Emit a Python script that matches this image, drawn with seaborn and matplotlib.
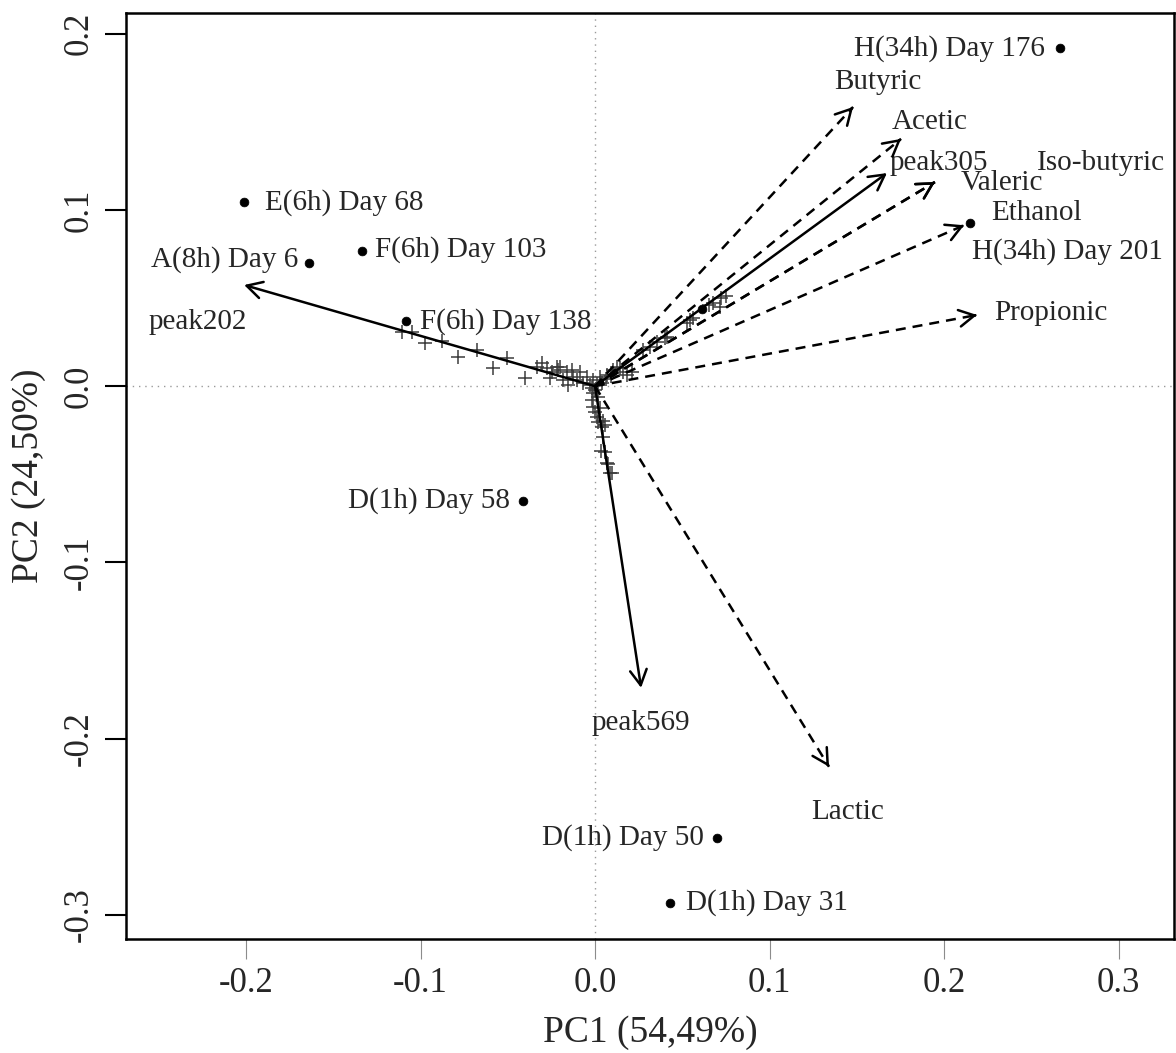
import matplotlib
matplotlib.use("Agg")
import matplotlib.pyplot as plt
import seaborn as sns
import pandas as pd

# samples (scores), black dots
sample_names = ["H(34h) Day 176", "E(6h) Day 68", "A(8h) Day 6", "F(6h) Day 103",
                "F(6h) Day 138", "D(1h) Day 58", "D(1h) Day 50", "D(1h) Day 31",
                "H(34h) Day 201", ""]
sample_x = [0.2665, -0.2011, -0.1639, -0.1335, -0.1083, -0.0413, 0.0699, 0.0427, 0.2149, 0.0613]
sample_y = [0.1918, 0.1044, 0.0699, 0.0767, 0.0370, -0.0651, -0.2563, -0.2931, 0.0926, 0.0438]

# peak loadings ("+" markers)
peak_x = [-0.1108, -0.1050, -0.0974, -0.0879, -0.0783, -0.0678, -0.0583, -0.0506, -0.0401,
          -0.0334, -0.0305, -0.0277, -0.0258, -0.0248, -0.0219, -0.0210, -0.0201, -0.0182,
          -0.0162, -0.0153, -0.0134, -0.0124, -0.0105, -0.0086, -0.0067, -0.0048, -0.0029,
          -0.0010, 0.0029, 0.0067, 0.0105, 0.0124, 0.0143, 0.0162, 0.0182, 0.0210,
          0.0277, 0.0315, 0.0354, 0.0401, 0.0415, 0.0526, 0.0544, 0.0563, 0.0653, 0.0678,
          0.0716, 0.0720, 0.0753,
          0.0000, 0.0019, -0.0010, -0.0019, -0.0010, 0.0000, 0.0010, 0.0019, 0.0038, 0.0026,
          0.0046, 0.0056, 0.0048, 0.0036, 0.0057, 0.0067, 0.0076, 0.0086, 0.0096,
          0.0010, -0.0020, 0.0040, 0.0060, 0.0090]
peak_y = [0.0309, 0.0309, 0.0247, 0.0258, 0.0167, 0.0205, 0.0102, 0.0158, 0.0045,
          0.0111, 0.0130, 0.0102, 0.0045, 0.0082, 0.0111, 0.0092, 0.0111, 0.0035,
          0.0082, 0.0007, 0.0092, 0.0054, 0.0035, 0.0082, 0.0016, 0.0054, 0.0007,
          0.0035, 0.0054, 0.0064, 0.0092, 0.0111, 0.0102, 0.0082, 0.0064, 0.0082,
          0.0205, 0.0224, 0.0252, 0.0272, 0.0281, 0.0357, 0.0375, 0.0385, 0.0461, 0.0470,
          0.0451, 0.0499, 0.0512,
          -0.0022, -0.0060, -0.0040, -0.0078, -0.0116, -0.0145, -0.0173, -0.0201, -0.0230, -0.0121,
          -0.0199, -0.0219, -0.0290, -0.0365, -0.0372, -0.0437, -0.0444, -0.0494, -0.0492,
          0.0010, -0.0010, 0.0020, 0.0040, 0.0060]

# selected peaks (solid arrows)
sel_peaks = ["peak202", "peak305", "peak569"]
sel_x = [-0.2011, 0.1673, 0.0264]
sel_y = [0.0574, 0.1209, -0.1711]

# metabolites (dashed arrows)
met_names = ["Butyric", "Acetic", "Valeric", "Iso-butyric", "Ethanol", "Propionic", "Lactic"]
met_x = [0.1479, 0.1754, 0.1948, 0.1948, 0.2115, 0.2189, 0.1341]
met_y = [0.1584, 0.1403, 0.1158, 0.1158, 0.0913, 0.0404, -0.2159]

xticks = [-0.2, -0.1, 0.0, 0.1, 0.2, 0.3]
yticks = [-0.3, -0.2, -0.1, 0.0, 0.1, 0.2]
xtick_labels = ["-0.2", "-0.1", "0.0", "0.1", "0.2", "0.3"]
ytick_labels = ["-0.3", "-0.2", "-0.1", "0.0", "0.1", "0.2"]

# label placement (offset pixels from the point)
sample_lab = [("right", -15, 0), ("left", 21, 0), ("right", -11, 3), ("left", 13, 1),
              ("left", 14, -1), ("right", -13, 0), ("right", -13, 0), ("left", 16, 0),
              ("left", 2, -29), ("left", 0, 0)]
sel_lab = [(-46, -37), (52, 10), (0, -35)]
met_lab = [(25, 25), (29, 17), (67, -1), (166, 19), (72, 12), (74, 2), (19, -45)]

sns.set_style("white")
plt.rcParams["font.family"] = ["Liberation Serif", "DejaVu Serif"]
plt.rcParams["axes.unicode_minus"] = False

fig = plt.figure(figsize=(11.76, 10.53), dpi=100)
ax = fig.add_axes([126 / 1176, 1 - 939 / 1053, 1048 / 1176, 926 / 1053])

ax.axhline(0, color="#9a9a9a", lw=1.0, ls=(0, (1, 3.5)), zorder=1)
ax.axvline(0, color="#9a9a9a", lw=1.0, ls=(0, (1, 3.5)), zorder=1)

peaks_df = pd.DataFrame({"x": peak_x, "y": peak_y})
sns.scatterplot(data=peaks_df, x="x", y="y", marker="+", s=95, color="#3c3c3c",
                linewidth=1.1, ax=ax, zorder=2, legend=False)

head = "->,head_length=0.55,head_width=0.3"

# solid arrows for peaks
for name, tx, ty, (dx, dy) in zip(sel_peaks, sel_x, sel_y, sel_lab):
    ax.annotate("", xy=(tx, ty), xytext=(0, 0),
                arrowprops=dict(arrowstyle=head, mutation_scale=20, lw=1.8, color="black",
                                shrinkA=0, shrinkB=0), zorder=3)
    ax.annotate(name, xy=(tx, ty), xytext=(dx, dy), textcoords="offset pixels",
                ha="center", va="center", fontsize=21)

# dashed arrows for metabolites
for name, tx, ty, (dx, dy) in zip(met_names, met_x, met_y, met_lab):
    ax.plot([0, tx], [0, ty], color="black", lw=1.8, ls=(0, (4, 2.8)), zorder=3)
    ax.annotate("", xy=(tx, ty), xytext=(tx * 0.995, ty * 0.995),
                arrowprops=dict(arrowstyle=head, mutation_scale=20, lw=1.8, color="black",
                                shrinkA=0, shrinkB=0), zorder=3)
    ax.annotate(name, xy=(tx, ty), xytext=(dx, dy), textcoords="offset pixels",
                ha="center", va="center", fontsize=21)

samples_df = pd.DataFrame({"x": sample_x, "y": sample_y, "name": sample_names})
sns.scatterplot(data=samples_df, x="x", y="y", color="black", s=40, edgecolor="black",
                ax=ax, zorder=4, legend=False)
for name, sx, sy, (ha, dx, dy) in zip(sample_names, sample_x, sample_y, sample_lab):
    if name:
        ax.annotate(name, xy=(sx, sy), xytext=(dx, dy), textcoords="offset pixels",
                    ha=ha, va="center", fontsize=21)

ax.set_xlim(-0.2688, 0.3318)
ax.set_ylim(-0.3136, 0.2117)
ax.set_xticks(xticks)
ax.set_xticklabels(xtick_labels, fontsize=25)
ax.set_yticks(yticks)
ax.set_yticklabels(ytick_labels, fontsize=25, rotation=90, va="center")

ax.tick_params(axis="x", bottom=True, length=14.5, width=0.8, color="#8c8c8c", pad=6)
ax.tick_params(axis="y", left=True, length=15, width=1.5, color="black", pad=7)

for sp in ax.spines.values():
    sp.set_color("black")
    sp.set_linewidth(1.8)

ax.set_xlabel("PC1 (54,49%)", fontsize=27)
ax.set_ylabel("PC2 (24,50%)", fontsize=27)
ax.xaxis.set_label_coords(0.5, -0.082)
ax.yaxis.set_label_coords(-0.076, 0.5)

fig.savefig("out.png", dpi=100)
